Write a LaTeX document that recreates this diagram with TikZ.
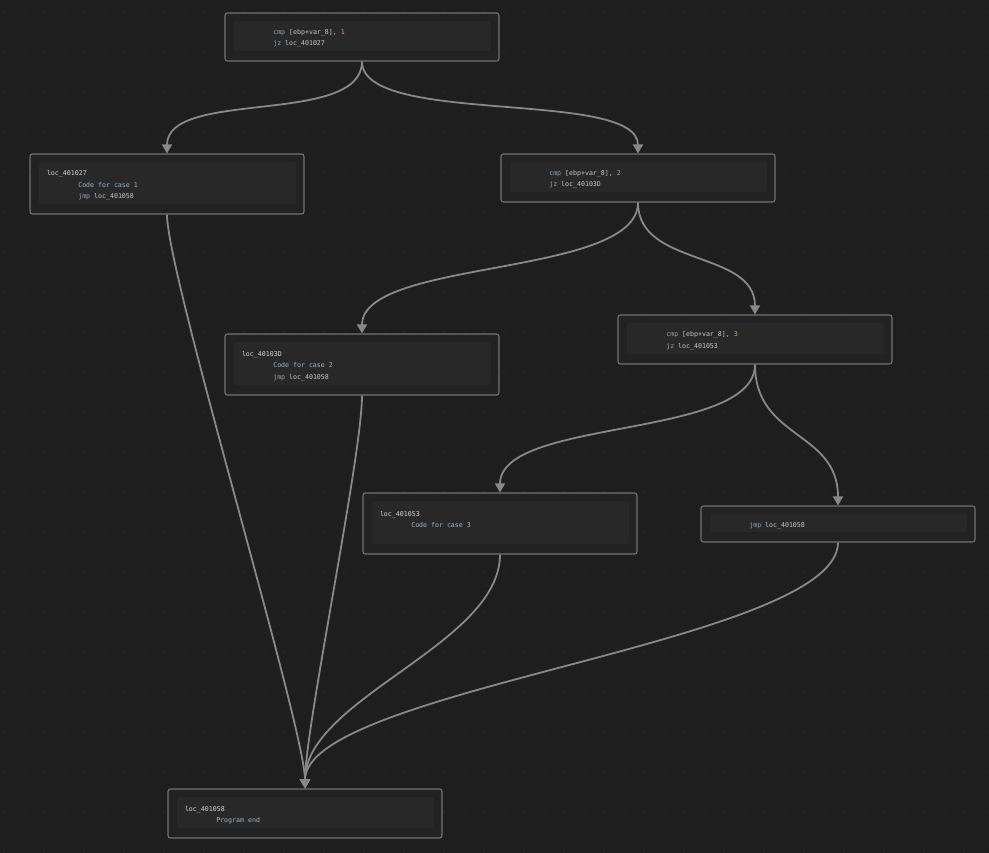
\documentclass[tikz,border=0pt]{standalone}
\usepackage{fontspec}
\setmonofont{DejaVu Sans Mono}
\usetikzlibrary{arrows.meta}
\definecolor{bgdark}{HTML}{1E1E1E}
\definecolor{griddot}{HTML}{2E2E2E}
\definecolor{boxfill}{HTML}{222222}
\definecolor{innerfill}{HTML}{282828}
\definecolor{boxline}{HTML}{727272}
\definecolor{edgegray}{HTML}{888888}
\definecolor{mncol}{HTML}{8EA7BF}
\definecolor{opcol}{HTML}{C6C6C6}
\definecolor{numcol}{HTML}{D2A070}
\definecolor{lblcol}{HTML}{D6D6D6}
\definecolor{txtcol}{HTML}{9DB5CB}
\newcommand{\mn}[1]{\textcolor{mncol}{#1}}
\newcommand{\opd}[1]{\textcolor{opcol}{#1}}
\newcommand{\nm}[1]{\textcolor{numcol}{#1}}
\newcommand{\lbl}[1]{\textcolor{lblcol}{#1}}
\newcommand{\txt}[1]{\textcolor{txtcol}{#1}}
\newcommand{\ind}{\hspace*{31.3pt}}
\newcommand{\codefont}{\fontsize{6.6}{11.5}\selectfont\ttfamily}
\tikzset{
  block/.style={draw=boxline,line width=1.1pt,fill=boxfill,rounded corners=2.5pt,
    minimum width=274pt,text width=240pt,inner xsep=17pt,inner ysep=0pt,align=left,
    text=opcol,font=\codefont,
    execute at begin node={\spaceskip=3.95pt plus 0pt minus 0pt\relax\rule{0pt}{8pt}},
    path picture={\fill[innerfill] ([xshift=9pt,yshift=-8pt]path picture bounding box.north west)
      rectangle ([xshift=-8pt,yshift=10pt]path picture bounding box.south east);}},
  edge/.style={draw=edgegray,line width=1.8pt,-{Triangle[length=9pt,width=10pt]}}
}
\begin{document}
\begin{tikzpicture}[x=1pt,y=-1pt]
\fill[bgdark] (0,0) rectangle (989,853);
\useasboundingbox (0,0) rectangle (989,853);
\foreach \gx in {4,24,...,984}{
  \foreach \gy in {12,32,...,852}{
    \fill[griddot] (\gx,\gy) circle (0.8pt);
  }
}
\node[block,minimum height=48pt] (cmpone) at (362,37)
  {\ind\mn{cmp} \opd{[ebp+var\_8]}, \nm{1}\\ \ind\mn{jz} \opd{loc\_401027}};
\node[block,minimum height=60pt] (caseone) at (167,184)
  {\lbl{loc\_401027}\\ \ind\txt{Code for case 1}\\ \ind\mn{jmp} \opd{loc\_401058}};
\node[block,minimum height=48pt] (cmptwo) at (638,178)
  {\ind\mn{cmp} \opd{[ebp+var\_8]}, \nm{2}\\ \ind\mn{jz} \opd{loc\_40103D}};
\node[block,minimum height=61pt] (casetwo) at (362,364.5)
  {\lbl{loc\_40103D}\\ \ind\txt{Code for case 2}\\ \ind\mn{jmp} \opd{loc\_401058}};
\node[block,minimum height=49pt] (cmpthree) at (755,339.5)
  {\ind\mn{cmp} \opd{[ebp+var\_8]}, \nm{3}\\ \ind\mn{jz} \opd{loc\_401053}};
\node[block,minimum height=61pt] (casethree) at (500,523.5)
  {\lbl{loc\_401053}\\ \ind\txt{Code for case 3}\\ ~};
\node[block,minimum height=36pt] (jmpend) at (838,524)
  {\ind\mn{jmp} \opd{loc\_401058}};
\node[block,minimum height=49pt] (progend) at (305,813.5)
  {\lbl{loc\_401058}\\ \ind\txt{Program end}};
\draw[edge] (cmpone.south) .. controls +(0,65) and +(0,-65) .. (caseone.north);
\draw[edge] (cmpone.south) .. controls +(0,65) and +(0,-65) .. (cmptwo.north);
\draw[edge] (cmptwo.south) .. controls +(0,75) and +(0,-75) .. (casetwo.north);
\draw[edge] (cmptwo.south) .. controls +(0,65) and +(0,-65) .. (cmpthree.north);
\draw[edge] (cmpthree.south) .. controls +(0,75) and +(0,-75) .. (casethree.north);
\draw[edge] (cmpthree.south) .. controls +(0,75) and +(0,-75) .. (jmpend.north);
\draw[edge] (caseone.south) .. controls +(0,60) and +(0,-60) .. (progend.north);
\draw[edge] (casetwo.south) .. controls +(0,60) and +(0,-60) .. (progend.north);
\draw[edge] (casethree.south) .. controls +(0,90) and +(0,-90) .. (progend.north);
\draw[edge] (jmpend.south) .. controls +(0,100) and +(0,-100) .. (progend.north);
\end{tikzpicture}
\end{document}
